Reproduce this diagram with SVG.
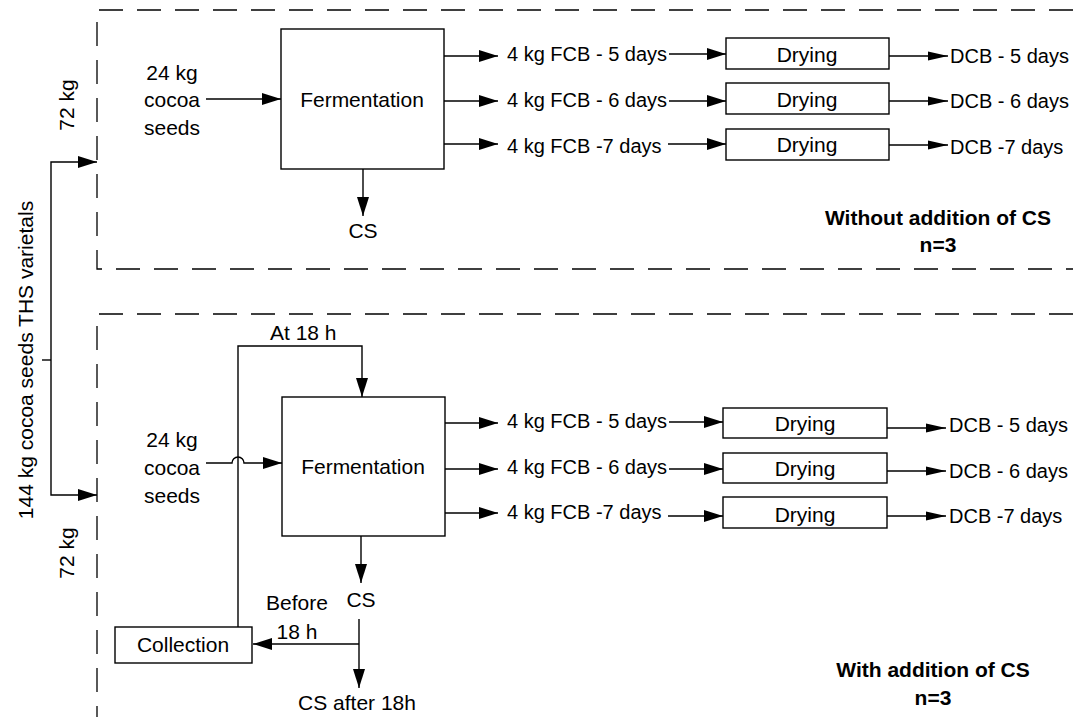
<svg xmlns="http://www.w3.org/2000/svg" width="1073" height="717" viewBox="0 0 1073 717">
<style>
text{font-family:"Liberation Sans",Arial,sans-serif;font-size:21px;fill:#000}
.s{font-size:20px}
.b{font-weight:bold}
.m{text-anchor:middle}
.box{fill:#fff;stroke:#000;stroke-width:1.4}
.dash{fill:none;stroke:#000;stroke-width:1.3;stroke-dasharray:24 14}
.ln{fill:none;stroke:#000;stroke-width:1.4}
.a{marker-end:url(#ah)}
.a2{marker-end:url(#ah2)}
</style>
<defs>
<marker id="ah" markerUnits="userSpaceOnUse" markerWidth="19" markerHeight="12" refX="19" refY="6" orient="auto"><path d="M0,0 L19,6 L0,12 z" fill="#000"/></marker>
<marker id="ah2" markerUnits="userSpaceOnUse" markerWidth="20" markerHeight="10" refX="20" refY="5" orient="auto"><path d="M0,0.5 L20,5 L0,9.5 z" fill="#000"/></marker>
</defs>
<rect width="1073" height="717" fill="#fff"/>

<g id="groups">
<path class="dash" d="M1073 10 H97 V269 H1073"/>
<path class="dash" d="M1073 314 H97 V717"/>
</g>

<g id="connectors">
<path class="ln" d="M42 360 H51"/>
<path class="ln a" d="M51 360 V162 H97"/>
<path class="ln a" d="M51 360 V495 H97"/>
<path class="ln a" d="M206 99 H281"/>
<path class="ln a" d="M444 56 H498"/>
<path class="ln a" d="M444 101 H498"/>
<path class="ln a" d="M444 144 H498"/>
<path class="ln a" d="M669 54 H726"/>
<path class="ln a" d="M669 101 H726"/>
<path class="ln a" d="M668 144 H726"/>
<path class="ln a2" d="M889 56 H948"/>
<path class="ln a2" d="M889 101 H948"/>
<path class="ln a2" d="M889 145 H948"/>
<path class="ln a" d="M363 169 V216"/>
<path class="ln a" d="M206 463 H232 A6 6 0 0 1 244 463 H282"/>
<path class="ln a" d="M238 627 V346 H362 V397"/>
<path class="ln a" d="M445 423 H498"/>
<path class="ln a" d="M445 469 H498"/>
<path class="ln a" d="M445 513 H498"/>
<path class="ln a" d="M669 422 H723"/>
<path class="ln a" d="M669 469 H723"/>
<path class="ln a" d="M668 516 H723"/>
<path class="ln a2" d="M887 428 H946"/>
<path class="ln a2" d="M887 471 H946"/>
<path class="ln a2" d="M887 516 H946"/>
<path class="ln a" d="M361 536 V583"/>
<path class="ln a" d="M359 619 V688"/>
<path class="ln a" d="M359 644 H253"/>
</g>

<g id="labels">
<text class="m" transform="translate(33,360) rotate(-90)">144 kg cocoa seeds THS varietals</text>
<text class="m" transform="translate(74,105) rotate(-90)">72 kg</text>
<text class="m" transform="translate(74,553) rotate(-90)">72 kg</text>
</g>

<g id="top-input">
<text class="m" x="172" y="80">24 kg</text>
<text class="m" x="172" y="107">cocoa</text>
<text class="m" x="172" y="135">seeds</text>
</g>
<g id="top-fermentation">
<rect class="box" x="281" y="29" width="163" height="140"/>
<text class="m" x="362" y="107">Fermentation</text>
</g>
<g id="top-cs"><text class="m" x="363" y="238">CS</text></g>
<g id="top-fcb">
<text class="s" x="507" y="61">4 kg FCB - 5 days</text>
<text class="s" x="507" y="107">4 kg FCB - 6 days</text>
<text class="s" x="507" y="153">4 kg FCB -7 days</text>
</g>
<g id="top-drying1"><rect class="box" x="726" y="38" width="163" height="31"/><text class="m" x="807" y="62">Drying</text></g>
<g id="top-drying2"><rect class="box" x="726" y="83" width="163" height="31"/><text class="m" x="807" y="107">Drying</text></g>
<g id="top-drying3"><rect class="box" x="726" y="129" width="163" height="31"/><text class="m" x="807" y="152">Drying</text></g>
<g id="top-dcb">
<text class="s" x="950" y="63">DCB - 5 days</text>
<text class="s" x="950" y="108">DCB - 6 days</text>
<text class="s" x="950" y="154">DCB -7 days</text>
</g>
<g id="top-title">
<text class="b m" x="938" y="225">Without addition of CS</text>
<text class="b m" x="938" y="252">n=3</text>
</g>

<g id="bottom-input">
<text class="m" x="172" y="447">24 kg</text>
<text class="m" x="172" y="475">cocoa</text>
<text class="m" x="172" y="503">seeds</text>
</g>
<g id="bottom-fermentation">
<rect class="box" x="282" y="397" width="163" height="139"/>
<text class="m" x="363" y="474">Fermentation</text>
</g>
<g id="bottom-fcb">
<text class="s" x="507" y="428">4 kg FCB - 5 days</text>
<text class="s" x="507" y="474">4 kg FCB - 6 days</text>
<text class="s" x="507" y="519">4 kg FCB -7 days</text>
</g>
<g id="bottom-drying1"><rect class="box" x="723" y="408" width="164" height="30"/><text class="m" x="805" y="431">Drying</text></g>
<g id="bottom-drying2"><rect class="box" x="723" y="453" width="164" height="30"/><text class="m" x="805" y="476">Drying</text></g>
<g id="bottom-drying3"><rect class="box" x="723" y="497" width="164" height="31"/><text class="m" x="805" y="522">Drying</text></g>
<g id="bottom-dcb">
<text class="s" x="949" y="432">DCB - 5 days</text>
<text class="s" x="949" y="478">DCB - 6 days</text>
<text class="s" x="949" y="523">DCB -7 days</text>
</g>
<g id="bottom-cs"><text class="m" x="361" y="607">CS</text></g>
<g id="collection">
<rect class="box" x="115" y="627" width="137" height="36"/>
<text class="m" x="183" y="652">Collection</text>
</g>
<g id="edge-labels">
<text x="270" y="340">At 18 h</text>
<text class="m" x="297" y="610">Before</text>
<text class="m" x="297" y="639">18 h</text>
<text class="m" x="357" y="710">CS after 18h</text>
</g>
<g id="bottom-title">
<text class="b m" x="933" y="677">With addition of CS</text>
<text class="b m" x="933" y="705">n=3</text>
</g>
</svg>
